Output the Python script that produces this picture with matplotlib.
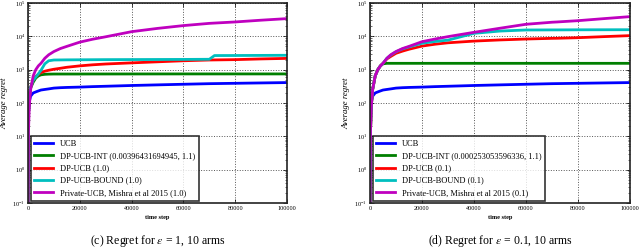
import numpy as np
import matplotlib
matplotlib.use("Agg")
import matplotlib.pyplot as plt

plt.rcParams['font.family'] = 'serif'
plt.rcParams['font.serif'] = ['Liberation Serif', 'DejaVu Serif']
plt.rcParams['mathtext.fontset'] = 'stix'

t = [1, 200, 500, 1000, 2000, 3000, 4000, 5000, 6500, 8000, 10000, 12500, 15000,
     20000, 25000, 30000, 40000, 50000, 60000, 70000, 72000, 80000, 90000, 100000]

# epsilon = 1
ucb_c = [0.1, 50, 110, 160, 200, 215, 230, 245, 255, 265, 280, 288, 293,
         300, 310, 318, 335, 350, 365, 380, 382, 390, 400, 410]
int_c = [0.1, 50, 150, 280, 420, 560, 650, 700, 725, 735, 740, 740, 740,
         740, 742, 742, 743, 744, 745, 745, 745, 745, 745, 745]
dp_c = [0.1, 50, 150, 300, 490, 620, 720, 820, 900, 960, 1030, 1100, 1180,
        1300, 1400, 1480, 1600, 1720, 1850, 1950, 1960, 2000, 2100, 2180]
bound_c = [0.1, 50, 150, 300, 480, 600, 750, 950, 1500, 1850, 1950, 1960, 1970,
           1980, 1990, 2000, 2010, 2020, 2030, 2050, 2650, 2660, 2680, 2700]
priv_c = [0.1, 15, 80, 250, 650, 1000, 1300, 1550, 2200, 2800, 3500, 4300, 5000,
          6700, 8200, 9700, 13800, 17300, 21000, 24500, 25000, 27000, 30500, 34000]

# epsilon = 0.1
ucb_d = [0.1, 50, 110, 160, 200, 215, 230, 245, 255, 265, 280, 288, 293,
         300, 310, 318, 335, 350, 365, 380, 382, 390, 400, 410]
int_d = [0.1, 15, 80, 250, 650, 1000, 1300, 1500, 1550, 1550, 1550, 1550, 1550,
         1550, 1550, 1550, 1550, 1550, 1550, 1550, 1550, 1550, 1550, 1550]
dp_d = [0.1, 15, 80, 250, 650, 1000, 1300, 1550, 2100, 2500, 3100, 3600, 4100,
        5100, 5800, 6400, 7200, 7800, 8300, 8700, 8750, 9100, 9800, 10500]
bound_d = [0.1, 15, 80, 250, 650, 1000, 1300, 1550, 2200, 2750, 3450, 4200, 4800,
           6200, 7000, 7700, 12300, 14400, 15500, 15600, 15600, 15700, 15750, 15800]
priv_d = [0.1, 15, 80, 250, 650, 1000, 1300, 1550, 2200, 2800, 3500, 4300, 5000,
          6900, 8300, 9800, 13200, 17500, 23000, 26500, 27000, 29500, 34000, 39000]

labels_c = ['UCB', 'DP-UCB-INT (0.00396431694945, 1.1)', 'DP-UCB (1.0)',
            'DP-UCB-BOUND (1.0)', 'Private-UCB, Mishra et al 2015 (1.0)']
labels_d = ['UCB', 'DP-UCB-INT (0.000253053596336, 1.1)', 'DP-UCB (0.1)',
            'DP-UCB-BOUND (0.1)', 'Private-UCB, Mishra et al 2015 (0.1)']
colors = ['#0000ff', '#007f00', '#ff0000', '#00bfbf', '#bf00bf']

fig = plt.figure(figsize=(6.4, 2.5), dpi=100)


def panel(rect, series, labels, caption):
    ax = fig.add_axes(rect)
    for y, lab, col in zip(series, labels, colors):
        ax.plot(t, y, color=col, lw=2, label=lab)
    ax.set_yscale('log')
    ax.set_ylim(0.1, 1e5)
    ax.set_xlim(0, 100000)
    ax.set_xticks([0, 20000, 40000, 60000, 80000, 100000])
    ax.set_xticklabels(['0', '20000', '40000', '60000', '80000', '100000'])
    ax.tick_params(labelsize=4.5, direction='in', top=True, right=True,
                   length=3, width=0.5, pad=2)
    ax.tick_params(which='minor', direction='in', length=1.5, width=0.4, right=True)
    ax.grid(True, which='major', color='#555555', ls=':', lw=0.7)
    for s in ax.spines.values():
        s.set_linewidth(1.2)
        s.set_color('#222222')
    ax.set_xlabel('time step', fontsize=4.5, fontweight='bold', labelpad=3)
    ax.set_ylabel('Average regret', fontsize=6.3, style='italic', labelpad=3)
    leg = ax.legend(loc='lower left', fontsize=6, frameon=True, fancybox=False,
                    borderaxespad=0.3, handlelength=2.2, handletextpad=0.9,
                    labelspacing=0.5, borderpad=0.45)
    leg.get_frame().set_edgecolor('black')
    leg.get_frame().set_linewidth(1.2)
    cx = rect[0] + rect[2] / 2
    fig.text(cx, 1 - 241 / 250, caption, ha='center', va='center', fontsize=8.5)
    return ax


panel([28 / 640, 47 / 250, 259 / 640, 200 / 250], [ucb_c, int_c, dp_c, bound_c, priv_c],
      labels_c, r'(c) Regret for $\epsilon$ = 1, 10 arms')
panel([370 / 640, 47 / 250, 260 / 640, 200 / 250], [ucb_d, int_d, dp_d, bound_d, priv_d],
      labels_d, r'(d) Regret for $\epsilon$ = 0.1, 10 arms')

fig.savefig('out.png', dpi=100)
